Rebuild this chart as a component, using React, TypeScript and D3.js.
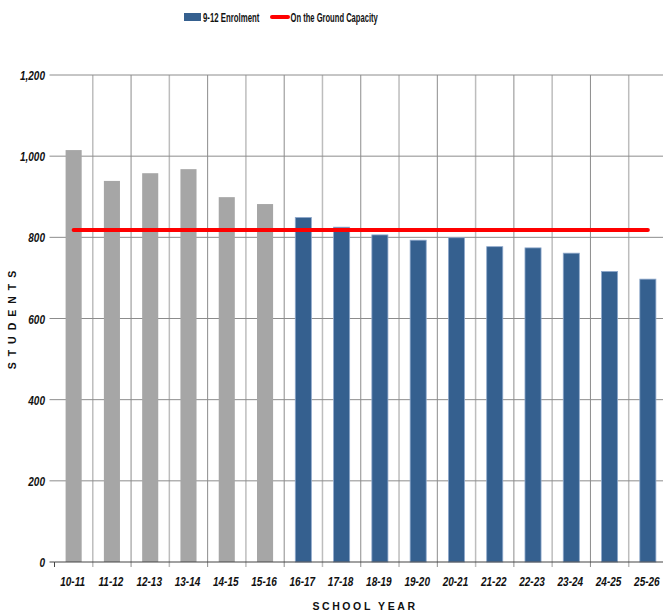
import React from "react";
import * as d3 from "d3";

const categories = ["10-11","11-12","12-13","13-14","14-15","15-16","16-17","17-18","18-19","19-20","20-21","21-22","22-23","23-24","24-25","25-26"];
const enrolment = [1015, 939, 958, 968, 899, 882, 849, 825, 806, 793, 799, 777, 774, 761, 716, 697];
const historicalCount = 6;
const capacity = 818;
const yTicks = [0, 200, 400, 600, 800, 1000, 1200];

const W = 663, H = 616;
const left = 54.5, right = 667, top = 75, bottom = 562;
const font = "'Liberation Sans', Arial, sans-serif";
const narrow = 0.77;

function NText(props: { x: number; y: number; anchor?: string; size?: number; italic?: boolean; sx?: number; children: React.ReactNode }) {
  return (
    <text
      transform={`translate(${props.x},${props.y}) scale(${props.sx || narrow},1)`}
      textAnchor={props.anchor || "start"}
      fontFamily={font}
      fontWeight="bold"
      fontStyle={props.italic ? "italic" : "normal"}
      fontSize={props.size || 13}
      fill="#111"
    >{props.children}</text>
  );
}

export default function App() {
  const x = d3.scaleBand<string>().domain(categories).range([left, right]).paddingInner(0).paddingOuter(0);
  const y = d3.scaleLinear().domain([0, 1200]).range([bottom, top]);
  const bw = x.bandwidth() * 0.42;
  const fmt = d3.format(",");
  const line = d3.line<string>().x(c => (x(c) as number) + x.bandwidth() / 2).y(() => y(capacity));
  const capPath = line([categories[0], categories[categories.length - 1]]) as string;
  return (
    <svg width={W} height={H} style={{ position: "absolute", left: 0, top: 0, background: "#fff" }}>
      {/* legend */}
      <rect x={184} y={13} width={17} height={8} fill="#35608f" />
      <NText x={203} y={22} size={13} sx={0.6}>9-12 Enrolment</NText>
      <line x1={272} x2={288} y1={17} y2={17} stroke="#ff0000" strokeWidth={4} strokeLinecap="round" />
      <NText x={290.5} y={22} size={13} sx={0.585}>On the Ground Capacity</NText>

      {/* vertical grid lines */}
      {categories.slice(1).map((c, i) => (
        <line key={c} x1={x(c)} x2={x(c)} y1={top} y2={bottom + 5} stroke={i % 2 === 0 ? "#bdbdbd" : "#8c8c8c"} strokeWidth={i % 2 === 0 ? 1.5 : 1} />
      ))}
      {/* horizontal grid lines */}
      {yTicks.filter(t => t > 0).map(t => (
        <line key={t} x1={left - 5} x2={W} y1={y(t)} y2={y(t)} stroke="#8c8c8c" strokeWidth={1} />
      ))}
      {/* bars */}
      {categories.map((c, i) => (
        <rect key={c}
          x={(x(c) as number) + (x.bandwidth() - bw) / 2}
          y={y(enrolment[i])}
          width={bw}
          height={bottom - y(enrolment[i])}
          fill={i < historicalCount ? "#a6a6a6" : "#35608f"}
          stroke={i < historicalCount ? "none" : "#8fa9cc"}
          strokeWidth={0.8}
        />
      ))}
      {/* axes */}
      <line x1={left} x2={W} y1={bottom} y2={bottom} stroke="#444" strokeWidth={1.2} />
      <line x1={left} x2={left} y1={bottom} y2={bottom + 5} stroke="#444" strokeWidth={1} />
      <line x1={left - 5} x2={left} y1={bottom} y2={bottom} stroke="#444" strokeWidth={1} />
      {yTicks.map(t => (
        <NText key={t} x={45} y={y(t) + 5} anchor="end" italic>{fmt(t)}</NText>
      ))}
      {categories.map(c => (
        <NText key={c} x={(x(c) as number) + x.bandwidth() / 2 - 1} y={585.5} anchor="middle" italic>{c}</NText>
      ))}
      {/* capacity line */}
      <path d={capPath} stroke="#ff0000" strokeWidth={4} fill="none" strokeLinecap="round" />
      {/* axis titles */}
      <text x={365} y={610} textAnchor="middle" fontFamily={font} fontWeight="bold" fontSize={10.5} letterSpacing={2.6} fill="#111">SCHOOL YEAR</text>
      <text transform={`translate(16, ${317}) rotate(-90)`} textAnchor="middle" fontFamily={font} fontWeight="bold" fontSize={10.5} letterSpacing={6} fill="#111">STUDENTS</text>
    </svg>
  );
}
